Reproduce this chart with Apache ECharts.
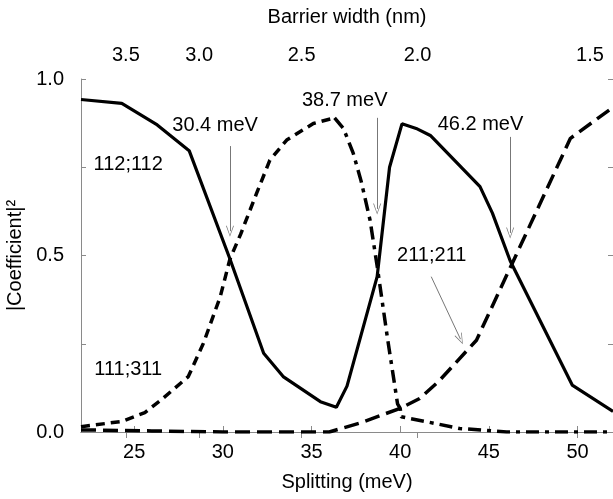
<!DOCTYPE html>
<html>
<head>
<meta charset="utf-8">
<script src="https://cdn.jsdelivr.net/npm/echarts@6/dist/echarts.min.js"></script>
<style>
  html, body { margin: 0; padding: 0; background: #fff; }
  #chart { width: 613px; height: 499px; }
</style>
</head>
<body>
<div id="chart"></div>
<script>
// 112;112 component (solid)
var solidX = [22, 24.3, 26.3, 28.1, 30.4, 32.3, 33.4, 35.5, 36.4, 37.0, 38.7, 39.4, 40.1, 40.9, 41.7, 44.5, 45.2, 46.2, 49.7, 52];
var solidY = [0.942, 0.931, 0.87, 0.797, 0.49, 0.223, 0.157, 0.086, 0.07, 0.13, 0.44, 0.75, 0.873, 0.86, 0.84, 0.695, 0.62, 0.485, 0.133, 0.058];

// 111;311 component (short dash), rising side
var shortX = [22, 24.3, 25.6, 26.5, 28.05, 28.9, 29.85, 30.4, 31.0, 31.9, 32.65, 33.6, 35.1, 36.3];
var shortY = [0.015, 0.03, 0.055, 0.09, 0.157, 0.251, 0.383, 0.49, 0.56, 0.676, 0.77, 0.827, 0.874, 0.89];

// falling side (dash-dot)
var dotX = [36.3, 36.8, 37.35, 37.8, 38.3, 38.7, 39.3, 39.85, 40.0, 40.06, 41.5, 43.35, 46, 52];
var dotY = [0.89, 0.86, 0.79, 0.71, 0.6, 0.47, 0.26, 0.08, 0.067, 0.043, 0.029, 0.01, 0.0, 0.0];

// 211;211 component (long dash)
var longX = [22, 26, 30, 34, 36, 37.7, 40, 41.1, 42.2, 44.3, 49.6, 52];
var longY = [0.006, 0.003, 0.0, 0.0, 0.0, 0.025, 0.067, 0.095, 0.145, 0.26, 0.832, 0.92];

// axes
var splitTicks = [25, 30, 35, 40, 45, 50];
var barrierLabels = ['3.5', '3.0', '2.5', '2.0', '1.5'];
var barrierTickPos = [24.53, 28.66, 34.44, 40.98, 49.97];
var barrierLabelPos = [24.53, 28.66, 34.44, 40.98, 50.7];

// annotations
var noteText = ['30.4 meV', '38.7 meV', '46.2 meV', '112;112', '111;311', '211;211'];
var noteX = [29.56, 36.87, 44.53, 24.66, 24.66, 41.78];
var noteY = [0.867, 0.938, 0.870, 0.759, 0.176, 0.499];
var arrowFrom = [[30.4, 0.81], [38.7, 0.89], [46.2, 0.836], [41.75, 0.44]];
var arrowTo = [[30.4, 0.569], [38.7, 0.632], [46.2, 0.564], [43.4, 0.263]];

function zip(xs, ys) {
  return xs.map(function (x, i) { return [x, ys[i]]; });
}

var FONT = "'Liberation Sans', Arial, sans-serif";
var FS = 20;
var AXIS_COLOR = '#8a8a8a';
var vHead = 'path://M5,0 L10,14 L9,14 L5,2.2 L1,14 L0,14 Z';

var myChart = echarts.init(document.getElementById('chart'));

var option = {
  animation: false,
  backgroundColor: '#fff',
  textStyle: { fontFamily: FONT },
  grid: { left: 81, right: 0, top: 79, bottom: 67, outerBoundsMode: 'none' },
  xAxis: [{
    type: 'value', min: 22, max: 52,
    name: 'Splitting (meV)', nameLocation: 'middle', nameGap: 40,
    nameTextStyle: { fontSize: FS, color: '#000', fontFamily: FONT },
    axisLine: { lineStyle: { color: AXIS_COLOR, width: 1 } },
    axisTick: { inside: true, length: 6, customValues: splitTicks, lineStyle: { color: AXIS_COLOR } },
    axisLabel: { customValues: splitTicks, fontSize: FS, color: '#000', margin: 10 },
    splitLine: { show: false }
  }, {
    type: 'value', min: 22, max: 52, position: 'top',
    name: 'Barrier width (nm)', nameLocation: 'middle', nameGap: 52,
    nameTextStyle: { fontSize: FS, color: '#000', fontFamily: FONT },
    axisLine: { lineStyle: { color: AXIS_COLOR, width: 1 } },
    axisTick: { inside: true, length: 6, customValues: barrierTickPos, lineStyle: { color: AXIS_COLOR } },
    axisLabel: {
      customValues: barrierLabelPos, fontSize: FS, color: '#000', margin: 14,
      formatter: function (v) { return barrierLabels[barrierLabelPos.indexOf(v)]; }
    },
    splitLine: { show: false }
  }],
  yAxis: [{
    type: 'value', min: 0, max: 1, interval: 0.25,
    name: '|Coefficient|²', nameLocation: 'middle', nameGap: 50,
    nameTextStyle: { fontSize: FS, color: '#000', fontFamily: FONT },
    axisLine: { show: true, lineStyle: { color: AXIS_COLOR, width: 1 } },
    axisTick: { show: true, inside: true, length: 5, lineStyle: { color: AXIS_COLOR } },
    axisLabel: {
      fontSize: FS, color: '#000', margin: 17,
      formatter: function (v) { return (v * 2) % 1 === 0 ? v.toFixed(1) : ''; }
    },
    splitLine: { show: false }
  }, {
    type: 'value', min: 0, max: 1, interval: 0.25, position: 'right',
    axisLine: { show: false },
    axisTick: { show: true, inside: true, length: 5, lineStyle: { color: AXIS_COLOR } },
    axisLabel: { show: false },
    splitLine: { show: false }
  }],
  series: [{
    name: '112;112', type: 'line', data: zip(solidX, solidY),
    symbol: 'none', lineStyle: { color: '#000', width: 3.2 },
    markLine: {
      silent: true, symbol: ['none', vHead], symbolSize: [8, 11],
      label: { show: false },
      lineStyle: { color: '#777', width: 1, type: 'solid' },
      data: arrowFrom.map(function (p, i) { return [{ coord: p }, { coord: arrowTo[i] }]; })
    },
    markPoint: {
      silent: true, symbol: 'circle', symbolSize: 0,
      label: { show: true, position: 'inside', fontSize: FS, color: '#000', fontFamily: FONT, formatter: '{b}' },
      data: noteText.map(function (t, i) { return { name: t, coord: [noteX[i], noteY[i]] }; })
    }
  }, {
    name: '111;311', type: 'line', data: zip(shortX, shortY),
    symbol: 'none', lineStyle: { color: '#000', width: 3.5, type: [9, 6] }
  }, {
    name: '111;311 b', type: 'line', data: zip(dotX, dotY),
    symbol: 'none', lineStyle: { color: '#000', width: 3.5, type: [13, 6, 4, 6] }
  }, {
    name: '211;211', type: 'line', data: zip(longX, longY),
    symbol: 'none', lineStyle: { color: '#000', width: 3.5, type: [15, 7] }
  }]
};

myChart.setOption(option);
</script>
</body>
</html>
